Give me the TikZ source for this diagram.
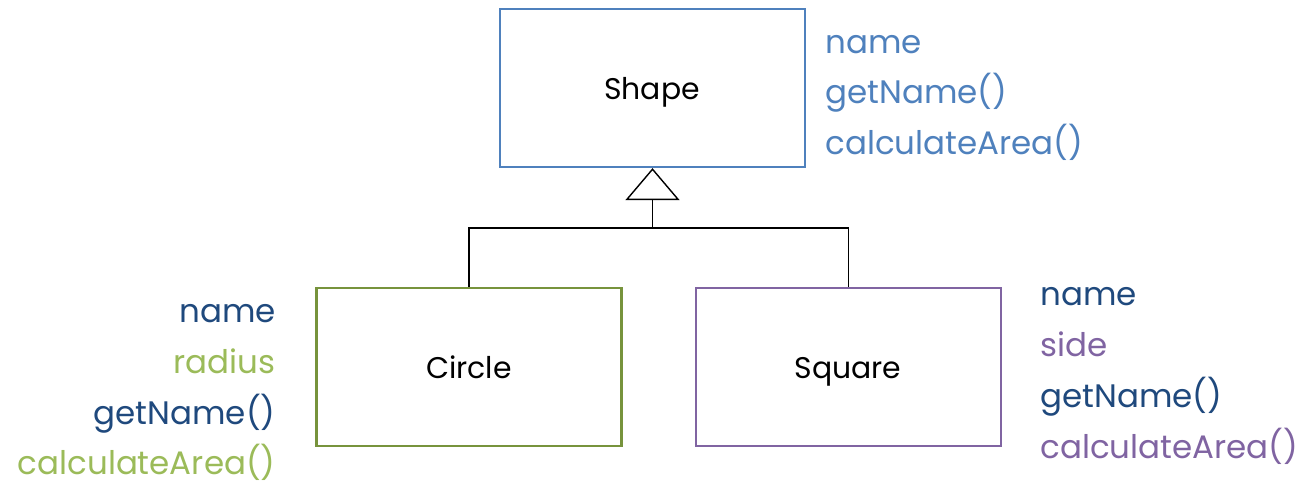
\documentclass[tikz,border=0pt]{standalone}
\usepackage{fontspec}
\setmainfont{Poppins}
\usetikzlibrary{arrows.meta}
\definecolor{shapeblue}{HTML}{4F81BD}
\definecolor{darkblue}{HTML}{1F497D}
\definecolor{leafgreen}{HTML}{9BBB59}
\definecolor{olive}{HTML}{77933C}
\definecolor{violet}{HTML}{8064A2}
\tikzset{
  classbox/.style={draw, line width=1.3pt, minimum width=6.1cm, minimum height=3.16cm, inner sep=0pt},
  classname/.style={font=\fontsize{17}{20}\selectfont, inner sep=0pt},
  member/.style={font=\fontsize{18.5}{22}\selectfont, inner sep=0pt},
  link/.style={line width=0.8pt, black}
}
\begin{document}
\begin{tikzpicture}[x=0.02cm,y=-0.02cm]
\useasboundingbox (0,0) rectangle (1301,485);
% class boxes
\node[classbox, draw=shapeblue] (shape) at (652.5,88) {};
\node[classbox, draw=olive] (circle) at (469,367) {};
\node[classbox, draw=violet] (square) at (848.5,367) {};
% class names
\node[classname, anchor=base] (shapename) at (652,99) {Shape};
\node[classname, anchor=base] (circlename) at (469,378) {Circle};
\node[classname, anchor=base] (squarename) at (848,378) {Square};
% members of Shape
\node[member, anchor=base west, text=shapeblue] (s1) at (825,53) {name};
\node[member, anchor=base west, text=shapeblue] (s2) at (825,103) {getName()};
\node[member, anchor=base west, text=shapeblue] (s3) at (825,154) {calculateArea()};
% members of Circle
\node[member, anchor=base east, text=darkblue] (c1) at (276,322) {name};
\node[member, anchor=base east, text=leafgreen] (c2) at (276,373) {radius};
\node[member, anchor=base east, text=darkblue] (c3) at (276,424) {getName()};
\node[member, anchor=base east, text=leafgreen] (c4) at (276,474) {calculateArea()};
% members of Square
\node[member, anchor=base west, text=darkblue] (q1) at (1040,305) {name};
\node[member, anchor=base west, text=violet] (q2) at (1040,356) {side};
\node[member, anchor=base west, text=darkblue] (q3) at (1040,407) {getName()};
\node[member, anchor=base west, text=violet] (q4) at (1040,458) {calculateArea()};
% inheritance connector
\coordinate (join) at (652.5,228);
\draw[link] (circle.north) |- (join) -| (square.north);
\draw[link, -{Triangle[open, width=1.08cm, length=0.64cm, line width=0.8pt]}] (join) -- (shape.south);
\end{tikzpicture}
\end{document}
